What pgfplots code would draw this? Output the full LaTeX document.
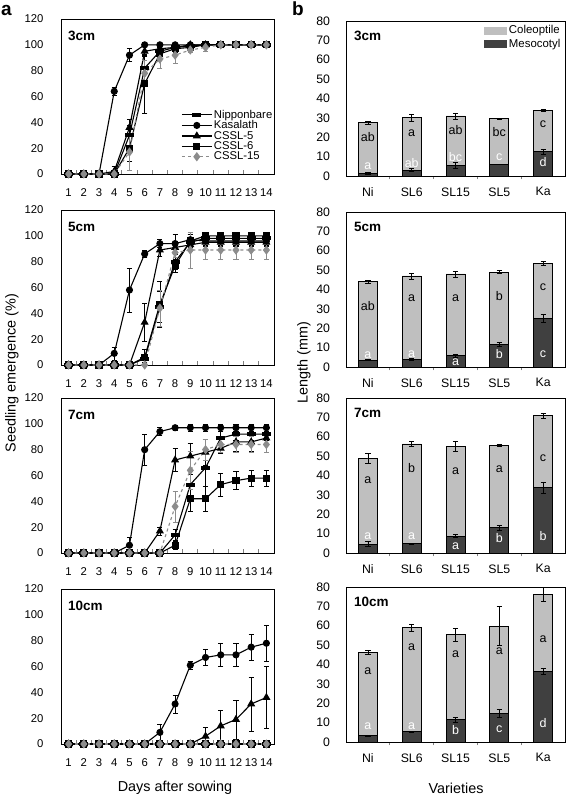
\documentclass[border=0pt]{standalone}
\usepackage{fontspec}
\setmainfont{Liberation Sans}
\usepackage{pgfplots}
\usepackage{pgfplotstable}
\pgfplotsset{compat=1.18}
\definecolor{coleo}{HTML}{BFBFBF}
\definecolor{meso}{HTML}{404040}
\definecolor{gfif}{HTML}{8C8C8C}

% line charts: x ni nie ka kae sf(CSSL-5) sfe ss(CSSL-6) sse sq(CSSL-15) sqe
\pgfplotstableread{
x ni nie ka kae sf sfe ss sse sq sqe
1 0 0 0 0 0 0 0 0 0 0
2 0 0 0 0 0 0 0 0 0 0
3 0 0 0 0 0 0 0 0 0 0
4 0 0 64 3 2 4 0 0 0 0
5 30 8 92 5 36 6 20 10 17 14
6 82 10 100 0 95 4 70 23 78 10
7 95 4 100 0 97 2 93 5 89 7
8 98 2 100 0 98 2 97 3 92 6
9 99 1 100 0 100 0 98 2 96 2
10 100 0 100 0 100 0 100 0 98 3
11 100 0 100 0 100 0 100 0 100 0
12 100 0 100 0 100 0 100 0 100 0
13 100 0 100 0 100 0 100 0 100 0
14 100 0 100 0 100 0 100 0 100 0
}\emA
\pgfplotstableread{
x ni nie ka kae sf sfe ss sse sq sqe
1 0 0 0 0 0 0 0 0 0 0
2 0 0 0 0 0 0 0 0 0 0
3 0 0 0 0 0 0 0 0 0 0
4 0 0 9 5 0 0 0 0 0 0
5 0 0 58 17 0 0 0 0 0 0
6 5 3 86 3 33 15 6 6 0 0
7 45 12 94 3 89 5 47 18 44 14
8 80 6 94 7 91 5 77 5 87 4
9 95 4 97 4 93 4 96 5 89 14
10 98 2 96 3 95 3 100 0 89 7
11 98 2 96 3 95 3 100 0 89 7
12 98 2 96 3 95 3 100 0 89 7
13 98 2 96 3 95 3 100 0 89 7
14 98 2 96 3 95 3 100 0 89 7
}\emB
\pgfplotstableread{
x ni nie ka kae sf sfe ss sse sq sqe
1 0 0 0 0 0 0 0 0 0 0
2 0 0 0 0 0 0 0 0 0 0
3 0 0 0 0 0 0 0 0 0 0
4 0 0 0 0 0 0 0 0 0 0
5 0 0 6 6 0 0 0 0 0 0
6 0 0 80 12 0 0 0 0 0 0
7 0 0 94 3 17 3 0 0 0 0
8 14 4 97 2 72 9 6 3 36 12
9 53 8 97 3 75 10 42 10 64 15
10 66 14 97 3 78 10 42 10 80 8
11 89 5 97 3 81 4 53 9 84 6
12 92 5 97 3 86 7 56 7 84 6
13 92 5 97 3 86 7 58 6 84 6
14 92 5 97 3 89 5 58 6 84 6
}\emC
\pgfplotstableread{
x ni nie ka kae sf sfe ss sse sq sqe
1 0 0 0 0 0 0 0 0 0 0
2 0 0 0 0 0 0 0 0 0 0
3 0 0 0 0 0 0 0 0 0 0
4 0 0 0 0 0 0 0 0 0 0
5 0 0 0 0 0 0 0 0 0 0
6 0 0 0 0 0 0 0 0 0 0
7 0 0 9 6 0 0 0 0 0 0
8 0 0 31 7 0 0 0 0 0 0
9 0 0 61 3 0 0 0 0 0 0
10 0 0 67 6 6 7 0 0 0 0
11 0 0 69 9 14 12 0 0 0 0
12 0 0 69 9 19 15 0 0 0 0
13 0 0 75 10 31 21 0 0 0 0
14 0 0 78 14 36 24 0 0 0 0
}\emD

% bar charts: total length (coleoptile+mesocotyl) and mesocotyl
\pgfplotstableread{
x tot tote mes mese
1 27.5 0.7 1.5 0.5
2 30 1.6 3 0.8
3 31 1.6 5.5 1.4
4 29.5 0.4 6 0.2
5 34 0.6 12.5 1.3
}\lnA
\pgfplotstableread{
x tot tote mes mese
1 44 0.7 3.5 0.3
2 47 1.5 4 0.5
3 48 1.5 6 0.8
4 49 0.8 11.5 1
5 53.3 1 25 2
}\lnB
\pgfplotstableread{
x tot tote mes mese
1 49 2.5 4.5 1.3
2 56.3 1.2 4.7 0.3
3 55 2.5 8.7 0.8
4 55.6 0.4 13 1.3
5 71 1.3 33.7 3
}\lnC
\pgfplotstableread{
x tot tote mes mese
1 46.3 0.8 3.3 0.4
2 59 2 5.3 0.3
3 55.3 3.5 11.5 1.2
4 59.8 10 14.8 2
5 76.3 3.5 36.5 1.3
}\lnD

\tikzset{
  ptitle/.style={anchor=north west, inner sep=0pt, font=\bfseries\fontsize{13.5}{15}\selectfont},
  clet/.style={font=\fontsize{12.5}{14}\selectfont, text=black, inner sep=0pt},
  mlet/.style={font=\fontsize{12.5}{14}\selectfont, text=white, inner sep=0pt},
}
\pgfplotsset{
  errs/.style={error bars/.cd, y dir=both, y explicit,
    error bar style={line width=0.6pt, solid},
    error mark options={rotate=90, mark size=2.6pt, line width=0.6pt, solid}},
  common/.style={scale only axis, height=155pt, axis line style={line width=0.9pt},
    major tick length=0pt, minor tick length=3.5pt, tick align=inside,
    xtick pos=bottom, ytick pos=left, minor tick style={line width=0.9pt},
    /pgf/number format/assume math mode=true,
    clip=false},
  leftax/.style={common, width=213pt, xmin=0.5, xmax=14.5, ymin=0, ymax=120,
    ticklabel style={font=\fontsize{11.3}{13}\selectfont},
    xtick={1,...,14}, ytick={0,20,...,120}, minor xtick={1.5,2.5,...,13.5},
    xticklabel style={yshift=-11pt}, yticklabel style={xshift=-14pt},
    legend image code/.code={\draw[#1, mark repeat=2, mark phase=2] plot coordinates {(0pt,0pt) (15pt,0pt) (30pt,0pt)};}},
  rightax/.style={common, width=219pt, xmin=0.5, xmax=5.5, ymin=0, ymax=80,
    ticklabel style={font=\fontsize{12.3}{14}\selectfont},
    xtick={1,...,5}, xticklabels={Ni,SL6,SL15,SL5,Ka}, ytick={0,10,...,80},
    minor xtick={1.5,2.5,3.5,4.5},
    xticklabel style={yshift=-8pt}, yticklabel style={xshift=-12.5pt},
    ybar, bar width=0.43, bar shift=0pt},
  sni/.style={black, line width=1.1pt, mark=square*, mark size=2.6pt, mark options={solid, xscale=1.5, yscale=0.55}, errs},
  ska/.style={black, line width=1.1pt, mark=*, mark size=3pt, mark options={solid}, errs},
  ssf/.style={black, line width=1.1pt, mark=triangle*, mark size=3.6pt, mark options={solid}, errs},
  sss/.style={black, line width=1.1pt, mark=square*, mark size=3pt, mark options={solid}, errs},
  ssq/.style={gfif, line width=1.1pt, dashed, mark=diamond*, mark size=3.8pt, mark options={solid}, errs},
  bcol/.style={fill=coleo, draw=black, line width=0.8pt, errs},
  bmes/.style={fill=meso, draw=black, line width=0.8pt, errs},
}

\newcommand{\lineplots}[1]{%
  \addplot[sni] table[x=x, y=ni, y error=nie] {#1};
  \addplot[ska] table[x=x, y=ka, y error=kae] {#1};
  \addplot[ssf] table[x=x, y=sf, y error=sfe] {#1};
  \addplot[sss] table[x=x, y=ss, y error=sse] {#1};
  \addplot[ssq] table[x=x, y=sq, y error=sqe] {#1};
}
\newcommand{\barplots}[1]{%
  \addplot[bcol] table[x=x, y=tot, y error=tote] {#1};
  \addplot[bmes] table[x=x, y=mes, y error=mese] {#1};
}

\begin{document}
\begin{tikzpicture}
\useasboundingbox (0pt,0pt) rectangle (567pt,798pt);

% ---------------- left column (a) ----------------
\begin{axis}[leftax, at={(61pt,624pt)}, anchor=south west,
  legend style={at={(1,0.07)}, anchor=south east, draw=none, fill=none,
    font=\fontsize{11.3}{12}\selectfont, inner sep=0pt, row sep=-2pt,
    nodes={inner sep=1.5pt}},
  legend cell align=left]
\lineplots{\emA}
\legend{Nipponbare,Kasalath,CSSL-5,CSSL-6,CSSL-15}
\node[ptitle] at (rel axis cs:0,1) [xshift=7pt, yshift=-12pt] {3cm};
\end{axis}

\begin{axis}[leftax, at={(61pt,433pt)}, anchor=south west]
\lineplots{\emB}
\node[ptitle] at (rel axis cs:0,1) [xshift=7pt, yshift=-12pt] {5cm};
\end{axis}

\begin{axis}[leftax, at={(61pt,245pt)}, anchor=south west]
\lineplots{\emC}
\node[ptitle] at (rel axis cs:0,1) [xshift=7pt, yshift=-12pt] {7cm};
\end{axis}

\begin{axis}[leftax, at={(61pt,54pt)}, anchor=south west]
\lineplots{\emD}
\node[ptitle] at (rel axis cs:0,1) [xshift=7pt, yshift=-12pt] {10cm};
\end{axis}

% ---------------- right column (b) ----------------
\begin{axis}[rightax, at={(346pt,622pt)}, anchor=south west,
  legend style={at={(1,1)}, anchor=north east, xshift=-3pt, yshift=-3pt,
    draw=none, fill=none, font=\fontsize{11.4}{12}\selectfont, row sep=0.5pt,
    inner sep=0pt, nodes={inner sep=1.5pt}},
  legend cell align=left,
  legend image code/.code={\fill[#1, draw=none] (0pt,-4pt) rectangle (23pt,4pt);}]
\barplots{\lnA}
\legend{Coleoptile,Mesocotyl}
\node[ptitle] at (rel axis cs:0,1) [xshift=8pt, yshift=-10pt] {3cm};
\node[clet] at (axis cs:1,20) {ab};
\node[clet] at (axis cs:2,22) {a};
\node[clet] at (axis cs:3,23.8) {ab};
\node[clet] at (axis cs:4,22.5) {bc};
\node[clet] at (axis cs:5,26.8) {c};
\node[mlet] at (axis cs:1,4.8) {a};
\node[mlet] at (axis cs:2,6.6) {ab};
\node[mlet] at (axis cs:3,9.7) {bc};
\node[mlet] at (axis cs:4,9.7) {c};
\node[mlet] at (axis cs:5,7.1) {d};
\end{axis}

\begin{axis}[rightax, at={(346pt,431pt)}, anchor=south west]
\barplots{\lnB}
\node[ptitle] at (rel axis cs:0,1) [xshift=8pt, yshift=-10pt] {5cm};
\node[clet] at (axis cs:1,31.7) {ab};
\node[clet] at (axis cs:2,35.6) {a};
\node[clet] at (axis cs:3,35.6) {a};
\node[clet] at (axis cs:4,36.5) {b};
\node[clet] at (axis cs:5,41) {c};
\node[mlet] at (axis cs:1,6.3) {a};
\node[mlet] at (axis cs:2,6.8) {a};
\node[mlet] at (axis cs:3,2.6) {a};
\node[mlet] at (axis cs:4,6.8) {b};
\node[mlet] at (axis cs:5,6.8) {c};
\end{axis}

\begin{axis}[rightax, at={(346pt,245pt)}, anchor=south west]
\barplots{\lnC}
\node[ptitle] at (rel axis cs:0,1) [xshift=8pt, yshift=-10pt] {7cm};
\node[clet] at (axis cs:1,37.8) {a};
\node[clet] at (axis cs:2,43.8) {b};
\node[clet] at (axis cs:3,42.4) {a};
\node[clet] at (axis cs:4,43.4) {a};
\node[clet] at (axis cs:5,48.9) {c};
\node[mlet] at (axis cs:1,8.6) {a};
\node[mlet] at (axis cs:2,8.6) {a};
\node[mlet] at (axis cs:3,3.4) {a};
\node[mlet] at (axis cs:4,7.7) {b};
\node[mlet] at (axis cs:5,8.6) {b};
\end{axis}

\begin{axis}[rightax, at={(346pt,56pt)}, anchor=south west]
\barplots{\lnD}
\node[ptitle] at (rel axis cs:0,1) [xshift=8pt, yshift=-10pt] {10cm};
\node[clet] at (axis cs:1,36.4) {a};
\node[clet] at (axis cs:2,48.9) {a};
\node[clet] at (axis cs:3,45.2) {a};
\node[clet] at (axis cs:4,46.9) {a};
\node[clet] at (axis cs:5,52.9) {a};
\node[mlet] at (axis cs:1,8.2) {a};
\node[mlet] at (axis cs:2,8.2) {a};
\node[mlet] at (axis cs:3,6.4) {b};
\node[mlet] at (axis cs:4,6.4) {c};
\node[mlet] at (axis cs:5,10) {d};
\end{axis}

% ---------------- labels ----------------
\node[anchor=north west, inner sep=0pt, font=\bfseries\fontsize{19}{21}\selectfont] at (1pt,793pt) {a};
\node[anchor=north west, inner sep=0pt, font=\bfseries\fontsize{19}{21}\selectfont] at (292pt,796pt) {b};
\node[rotate=90, font=\fontsize{14.4}{16}\selectfont] at (12pt,425pt) {Seedling emergence (\%)};
\node[rotate=90, font=\fontsize{14.4}{16}\selectfont] at (304pt,435pt) {Length (mm)};
\node[font=\fontsize{14.4}{16}\selectfont] at (175pt,10pt) {Days after sowing};
\node[font=\fontsize{14.4}{16}\selectfont] at (456pt,10pt) {Varieties};
\end{tikzpicture}
\end{document}
